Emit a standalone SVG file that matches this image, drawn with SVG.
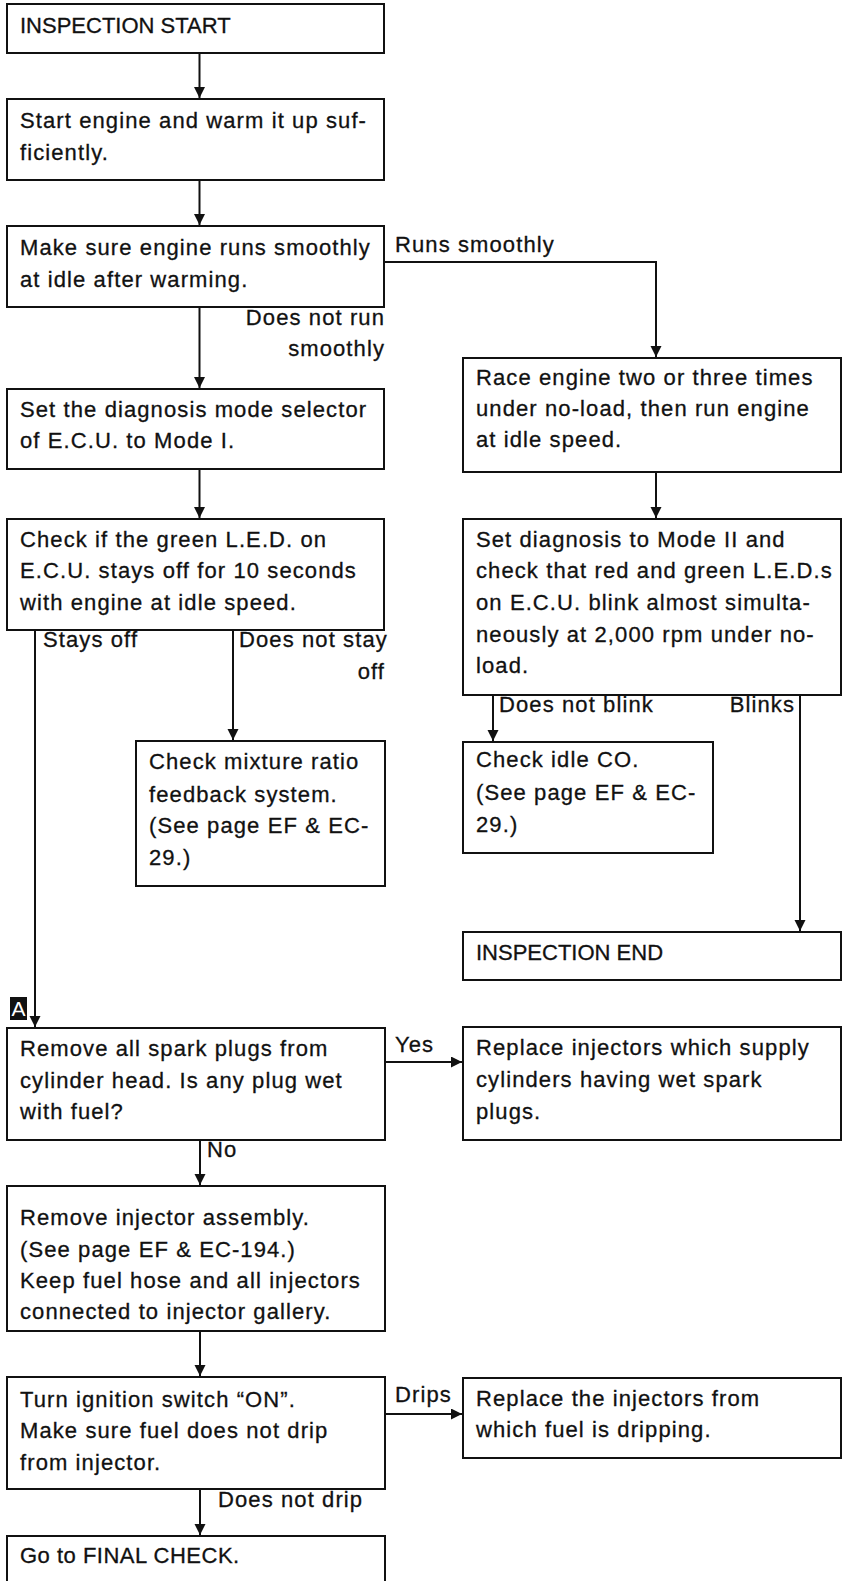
<svg xmlns="http://www.w3.org/2000/svg" width="843" height="1581" viewBox="0 0 843 1581">
  <style>
    .box { fill: #fff; stroke: #111; stroke-width: 2; }
    .t { font-family: "Liberation Sans", Arial, sans-serif; font-size: 22px; fill: #111; stroke: #111; stroke-width: 0.3px; letter-spacing: 1.1px; }
    .caps { letter-spacing: 0; }
    .end { text-anchor: end; }
    .edge { fill: none; stroke: #111; stroke-width: 2; marker-end: url(#arrow); }
  </style>
  <defs>
    <marker id="arrow" markerUnits="userSpaceOnUse" markerWidth="12" markerHeight="12" refX="11" refY="5.5" orient="auto">
      <path d="M0,0 L11,5.5 L0,11 z" fill="#111"/>
    </marker>
  </defs>
  <rect width="843" height="1581" fill="#fff"/>

  <!-- connectors and their branch labels -->
  <g id="connectors">
    <path class="edge" d="M199.5,53 V98"/>
    <path class="edge" d="M199.5,180 V225"/>
    <path class="edge" d="M199.5,307 V388"/>
    <path class="edge" d="M384,262 H656 V357"/>
    <path class="edge" d="M199.5,469 V518"/>
    <path class="edge" d="M656,472 V518"/>
    <path class="edge" d="M35,630 V1027"/>
    <path class="edge" d="M233,630 V740"/>
    <path class="edge" d="M493,695 V741"/>
    <path class="edge" d="M800,695 V931"/>
    <path class="edge" d="M385,1062 H462"/>
    <path class="edge" d="M200,1140 V1185"/>
    <path class="edge" d="M200,1331 V1376"/>
    <path class="edge" d="M385,1414 H462"/>
    <path class="edge" d="M200,1489 V1535"/>

    <text class="t end" x="385" y="325">Does not run</text>
    <text class="t end" x="385" y="356">smoothly</text>
    <text class="t" x="395" y="252">Runs smoothly</text>
    <text class="t" x="43" y="647">Stays off</text>
    <text class="t" x="239" y="647">Does not stay</text>
    <text class="t end" x="385" y="679">off</text>
    <text class="t" x="499" y="712">Does not blink</text>
    <text class="t end" x="795" y="712">Blinks</text>
    <text class="t" x="395" y="1052">Yes</text>
    <text class="t" x="207" y="1157">No</text>
    <text class="t" x="395" y="1402">Drips</text>
    <text class="t" x="218" y="1507">Does not drip</text>
  </g>

  <!-- entry marker A -->
  <g id="marker-a">
    <rect x="10" y="997" width="17" height="23" fill="#111"/>
    <text x="18.5" y="1016" text-anchor="middle" font-family="Liberation Sans, Arial, sans-serif" font-size="21" fill="#fff">A</text>
  </g>

  <g id="inspection-start">
    <rect class="box" x="7" y="4" width="377" height="49"/>
    <text class="t caps" x="20" y="33">INSPECTION START</text>
  </g>

  <g id="warm-up">
    <rect class="box" x="7" y="99" width="377" height="81"/>
    <text class="t" x="20" y="128">Start engine and warm it up suf-</text>
    <text class="t" x="20" y="160">ficiently.</text>
  </g>

  <g id="idle-smooth">
    <rect class="box" x="7" y="226" width="377" height="81"/>
    <text class="t" x="20" y="255">Make sure engine runs smoothly</text>
    <text class="t" x="20" y="287">at idle after warming.</text>
  </g>

  <g id="race-engine">
    <rect class="box" x="463" y="358" width="378" height="114"/>
    <text class="t" x="476" y="385">Race engine two or three times</text>
    <text class="t" x="476" y="416">under no-load, then run engine</text>
    <text class="t" x="476" y="447">at idle speed.</text>
  </g>

  <g id="mode-one">
    <rect class="box" x="7" y="389" width="377" height="80"/>
    <text class="t" x="20" y="417">Set the diagnosis mode selector</text>
    <text class="t" x="20" y="448">of E.C.U. to Mode I.</text>
  </g>

  <g id="green-led">
    <rect class="box" x="7" y="519" width="377" height="111"/>
    <text class="t" x="20" y="547">Check if the green L.E.D. on</text>
    <text class="t" x="20" y="578">E.C.U. stays off for 10 seconds</text>
    <text class="t" x="20" y="610">with engine at idle speed.</text>
  </g>

  <g id="mixture-ratio">
    <rect class="box" x="136" y="741" width="249" height="145"/>
    <text class="t" x="149" y="769">Check mixture ratio</text>
    <text class="t" x="149" y="802">feedback system.</text>
    <text class="t" x="149" y="833">(See page EF &amp; EC-</text>
    <text class="t" x="149" y="865">29.)</text>
  </g>

  <g id="mode-two">
    <rect class="box" x="463" y="519" width="378" height="176"/>
    <text class="t" x="476" y="547">Set diagnosis to Mode II and</text>
    <text class="t" x="476" y="578">check that red and green L.E.D.s</text>
    <text class="t" x="476" y="610">on E.C.U. blink almost simulta-</text>
    <text class="t" x="476" y="642">neously at 2,000 rpm under no-</text>
    <text class="t" x="476" y="673">load.</text>
  </g>

  <g id="idle-co">
    <rect class="box" x="463" y="742" width="250" height="111"/>
    <text class="t" x="476" y="767">Check idle CO.</text>
    <text class="t" x="476" y="800">(See page EF &amp; EC-</text>
    <text class="t" x="476" y="832">29.)</text>
  </g>

  <g id="inspection-end">
    <rect class="box" x="463" y="932" width="378" height="48"/>
    <text class="t caps" x="476" y="960">INSPECTION END</text>
  </g>

  <g id="spark-plugs">
    <rect class="box" x="7" y="1028" width="378" height="112"/>
    <text class="t" x="20" y="1056">Remove all spark plugs from</text>
    <text class="t" x="20" y="1088">cylinder head. Is any plug wet</text>
    <text class="t" x="20" y="1119">with fuel?</text>
  </g>

  <g id="replace-wet">
    <rect class="box" x="463" y="1027" width="378" height="113"/>
    <text class="t" x="476" y="1055">Replace injectors which supply</text>
    <text class="t" x="476" y="1087">cylinders having wet spark</text>
    <text class="t" x="476" y="1119">plugs.</text>
  </g>

  <g id="remove-injector">
    <rect class="box" x="7" y="1186" width="378" height="145"/>
    <text class="t" x="20" y="1225">Remove injector assembly.</text>
    <text class="t" x="20" y="1257">(See page EF &amp; EC-194.)</text>
    <text class="t" x="20" y="1288">Keep fuel hose and all injectors</text>
    <text class="t" x="20" y="1319">connected to injector gallery.</text>
  </g>

  <g id="ignition-on">
    <rect class="box" x="7" y="1377" width="378" height="112"/>
    <text class="t" x="20" y="1407">Turn ignition switch “ON”.</text>
    <text class="t" x="20" y="1438">Make sure fuel does not drip</text>
    <text class="t" x="20" y="1470">from injector.</text>
  </g>

  <g id="replace-dripping">
    <rect class="box" x="463" y="1378" width="378" height="80"/>
    <text class="t" x="476" y="1406">Replace the injectors from</text>
    <text class="t" x="476" y="1437">which fuel is dripping.</text>
  </g>

  <g id="final-check">
    <rect class="box" x="7" y="1536" width="378" height="60"/>
    <text class="t" x="20" y="1563" style="letter-spacing:0.5px">Go to FINAL CHECK.</text>
  </g>
</svg>
